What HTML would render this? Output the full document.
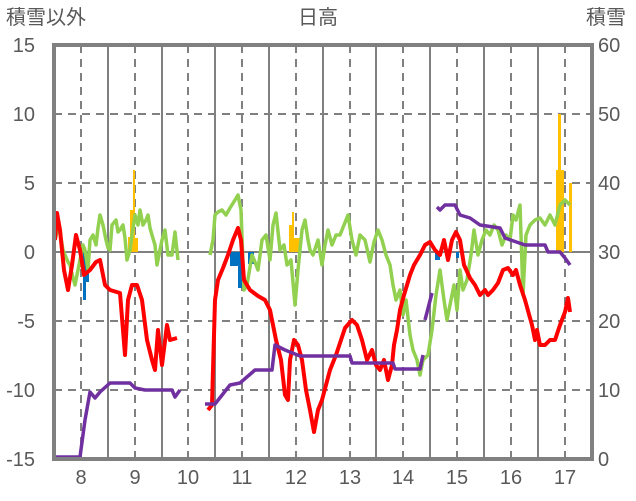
<!DOCTYPE html>
<html><head><meta charset="utf-8"><style>
html,body{margin:0;padding:0;background:#fff}
svg{display:block}
text{font-family:"Liberation Sans","Noto Sans CJK JP",sans-serif;fill:#595959;font-size:20px}
</style></head><body>
<svg width="636" height="501" viewBox="0 0 636 501">
<rect width="636" height="501" fill="#fff"/>
<g stroke="#808080" stroke-width="2" stroke-dasharray="8,6">
<line x1="54" y1="114" x2="592" y2="114"/><line x1="54" y1="183" x2="592" y2="183"/>
<line x1="54" y1="321" x2="592" y2="321"/><line x1="54" y1="390" x2="592" y2="390"/>
<line x1="81" y1="45" x2="81" y2="459"/><line x1="135" y1="45" x2="135" y2="459"/>
<line x1="188" y1="45" x2="188" y2="459"/><line x1="242" y1="45" x2="242" y2="459"/>
<line x1="296" y1="45" x2="296" y2="459"/><line x1="350" y1="45" x2="350" y2="459"/>
<line x1="403" y1="45" x2="403" y2="459"/><line x1="457" y1="45" x2="457" y2="459"/>
<line x1="511" y1="45" x2="511" y2="459"/><line x1="565" y1="45" x2="565" y2="459"/>
</g>
<g stroke="#808080" stroke-width="2">
<line x1="108" y1="45" x2="108" y2="459"/><line x1="162" y1="45" x2="162" y2="459"/>
<line x1="215" y1="45" x2="215" y2="459"/><line x1="269" y1="45" x2="269" y2="459"/>
<line x1="323" y1="45" x2="323" y2="459"/><line x1="376" y1="45" x2="376" y2="459"/>
<line x1="430" y1="45" x2="430" y2="459"/><line x1="484" y1="45" x2="484" y2="459"/>
<line x1="538" y1="45" x2="538" y2="459"/>
<line x1="54" y1="252" x2="592" y2="252"/>
</g>
<g fill="#ffc000">
<rect x="128" y="237" width="2" height="15"/><rect x="130" y="210" width="3" height="42"/><rect x="133" y="170" width="2" height="82"/><rect x="135" y="238" width="3" height="14"/>
<rect x="289" y="225" width="3" height="27"/><rect x="292" y="212" width="2" height="40"/><rect x="294" y="238" width="6" height="14"/>
<rect x="556" y="170" width="2" height="82"/><rect x="558" y="114" width="3" height="138"/><rect x="561" y="170" width="3" height="82"/><rect x="569" y="183" width="3" height="69"/>
</g>
<g fill="#0070c0">
<rect x="83" y="252" width="3" height="48"/><rect x="86" y="252" width="3" height="30"/><rect x="79" y="252" width="3" height="15"/>
<rect x="230" y="252" width="8" height="14"/><rect x="238" y="252" width="4" height="36"/><rect x="248" y="252" width="6" height="12"/>
<rect x="435" y="252" width="5" height="8"/><rect x="456" y="252" width="3" height="6"/>
</g>
<g fill="none" stroke="#92d050" stroke-width="3.5" stroke-linejoin="round">
<polyline points="55,240 58,228 60,232 63,250 65,255 68,262 70,265 73,278 75,285 78,270 80,260 83,245 85,250 88,270 90,240 93,235 96,245 98,228 100,215 103,225 106,240 108,248 110,250 112,225 116,220 118,232 120,230 123,225 125,238 127,260 130,250 132,235 135,215 138,225 140,210 143,225 146,220 148,215 150,228 152,235 155,245 157,265 160,250 162,240 165,230 168,255 172,255 175,232 178,260"/>
<polyline points="210,255 213,240 215,215 218,212 222,210 226,215 230,208 235,200 238,195 241,210 244,290 247,285 252,255 255,262 258,270 262,240 266,235 270,260 273,225 276,213 280,250 284,245 287,265 291,260 295,305 298,270 302,230 305,220 308,240 310,250 313,255 318,240 322,265 325,245 328,230 332,245 336,235 340,235 344,225 348,215 352,240 356,255 360,235 365,240 370,262 374,242 378,230 382,240 386,255 390,265 393,285 396,300 400,290 403,315 406,300 410,335 413,350 417,360 420,375 423,360 428,355 432,330 436,295 440,270 444,300 447,320 450,305 454,285 457,310 460,270 463,290 467,280 471,255 474,230 478,255 482,240 486,230 490,235 494,225 498,230 502,245 506,235 510,240 513,215 516,220 520,205 523,295 526,235 530,225 535,220 540,218 545,225 550,215 555,225 560,205 565,200 570,205"/>
</g>
<g fill="none" stroke="#ff0000" stroke-width="4" stroke-linejoin="round">
<polyline points="55,240 57,213 60,230 64,270 68,290 72,265 76,235 80,250 84,275 90,270 96,262 100,260 105,285 110,290 120,293 125,355 128,300 132,285 137,285 142,300 147,340 152,360 155,370 158,330 162,365 167,325 170,340 177,338"/>
<polyline points="208,410 212,405 215,300 218,280 223,268 228,255 233,240 238,228 241,240 244,280 250,290 258,296 265,300 270,310 276,340 281,360 285,395 288,400 290,360 294,340 298,345 302,360 306,390 310,410 314,432 318,410 322,400 326,385 330,370 336,355 341,340 345,328 352,320 357,325 362,340 367,360 372,350 376,365 380,370 384,360 388,380 392,365 394,345 397,330 400,310 404,295 410,275 414,265 420,255 425,245 430,242 435,250 440,255 444,240 448,260 452,240 456,232 460,240 464,265 470,278 475,285 480,295 485,290 488,295 493,290 498,283 503,270 508,268 513,275 516,270 520,285 525,300 532,325 535,340 537,330 540,345 545,345 550,340 555,340 560,325 565,312 568,298 570,312"/>
</g>
<g fill="none" stroke="#7030a0" stroke-width="3.5" stroke-linejoin="round">
<polyline points="54,457 80,457 85,420 90,392 95,398 100,392 110,383 130,383 135,388 145,390 160,390 172,390 175,397 180,390"/>
<polyline points="205,404 215,404 230,385 240,383 255,370 272,370 275,345 285,350 300,356 350,356 352,363 393,363 395,369 420,369 423,355"/>
<polyline points="425,320 432,293"/>
<polyline points="437,207 440,210 445,205 455,205 460,215 470,218 480,225 500,228 505,238 525,245 545,245 548,252 560,252 565,258 570,265"/>
</g>
<rect x="54" y="45" width="538" height="414" fill="none" stroke="#808080" stroke-width="4"/>
<text x="6" y="24">積雪以外</text>
<text x="298" y="24">日高</text>
<text x="586" y="24">積雪</text>
<g text-anchor="end">
<text x="35" y="52">15</text><text x="35" y="121">10</text><text x="35" y="190">5</text><text x="35" y="259">0</text>
<text x="35" y="328">-5</text><text x="35" y="397">-10</text><text x="35" y="466">-15</text>
</g>
<g>
<text x="598" y="52">60</text><text x="598" y="121">50</text><text x="598" y="190">40</text><text x="598" y="259">30</text>
<text x="598" y="328">20</text><text x="598" y="397">10</text><text x="598" y="466">0</text>
</g>
<g text-anchor="middle">
<text x="81" y="484">8</text><text x="135" y="484">9</text><text x="188" y="484">10</text><text x="242" y="484">11</text>
<text x="296" y="484">12</text><text x="350" y="484">13</text><text x="403" y="484">14</text><text x="457" y="484">15</text>
<text x="511" y="484">16</text><text x="565" y="484">17</text>
</g>
</svg>
</body></html>
